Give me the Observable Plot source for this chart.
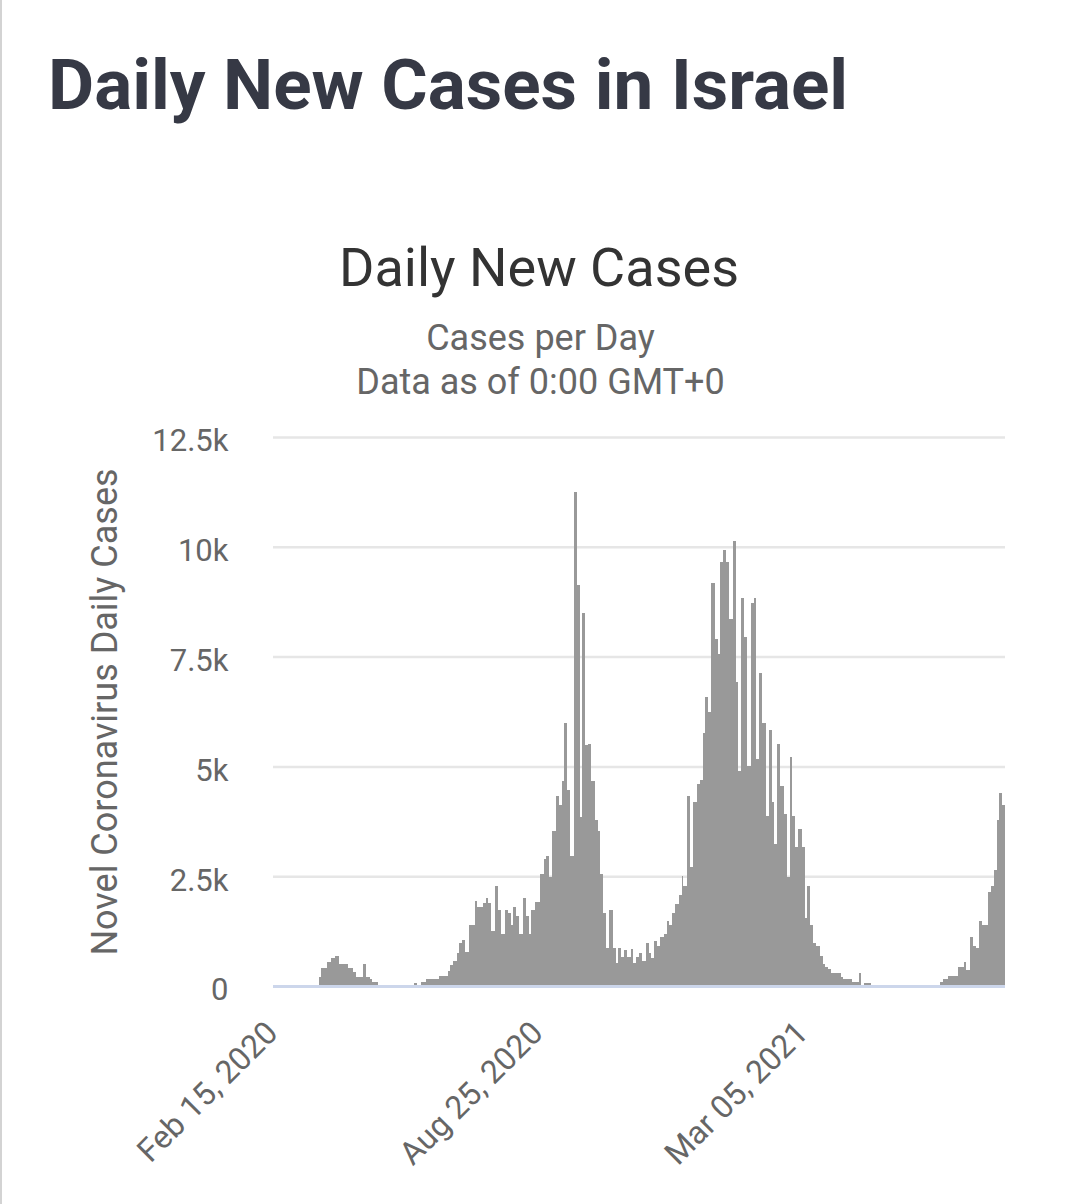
<!DOCTYPE html>
<html>
<head>
<meta charset="utf-8">
<script src="https://cdn.jsdelivr.net/npm/d3@7"></script>
<script src="https://cdn.jsdelivr.net/npm/@observablehq/plot@0.6"></script>
<style>
  html, body { margin: 0; padding: 0; background: #fff; }
  body { width: 1076px; height: 1204px; position: relative; overflow: hidden; font-family: Roboto, "Noto Sans", sans-serif; }
  #edge { position: absolute; left: 0; top: 0; width: 2px; height: 1204px; background: #d3d3d3; }
  .t { position: absolute; white-space: nowrap; line-height: 1; }
  #title { left: 48px; top: 49px; font-size: 71px; font-weight: 700; color: #363945; }
  #ctitle { left: 0; width: 1078px; text-align: center; top: 241px; font-size: 54px; color: #333; }
  #sub1 { left: 0; width: 1081px; text-align: center; top: 320px; font-size: 36px; color: #666; }
  #sub2 { left: 0; width: 1081px; text-align: center; top: 364px; font-size: 36px; color: #666; }
  #chart { position: absolute; left: 0; top: 420px; }
</style>
</head>
<body>
<div id="edge"></div>
<div class="t" id="title">Daily New Cases in Israel</div>
<div class="t" id="ctitle">Daily New Cases</div>
<div class="t" id="sub1">Cases per Day</div>
<div class="t" id="sub2">Data as of 0:00 GMT+0</div>
<div id="chart"></div>
<script>
// First day of the series (one value per day from here on)
const startDate = "2020-02-15";
const endDate = "2021-07-29"; // exclusive end of the axis

// Daily new cases in Israel (one value per day)
const dailyCases = [
  // Feb 15 – Mar 2, 2020
  0,0,0,0,0,0,0,0,0,0,0,0,0,0,0,0,
  1,0,1,2,3,3,5,6,8,10,12,15,18,20,22,25,28,
  // first wave
  200,200,400,410,420,410,550,550,550,640,640,640,690,690,690,
  500,500,500,500,500,500,400,400,400,400,330,330,200,200,200,200,200,500,500,200,200,200,150,150,80,80,80,80,
  30,25,20,20,15,15,10,10,10,8,8,5,5,5,5,10,10,8,8,10,15,15,20,20,25,30,
  // second wave
  70,70,20,25,30,80,80,80,80,
  150,150,150,150,150,150,150,150,150,230,230,230,230,230,230,230,
  350,480,480,580,580,580,760,760,970,970,1050,1050,770,770,770,
  1390,1390,1390,1390,1930,1930,1790,1790,1790,1790,1890,1890,2000,2000,1880,1880,1260,1260,1260,
  2280,2280,1720,1720,1190,1190,1190,1730,1730,1660,1660,1390,1390,1790,1790,1600,1600,1190,1190,1190,
  2000,2000,1600,1600,1190,1190,1730,1730,1730,1920,1920,1920,2550,2550,2550,2890,2890,2960,2960,2480,2480,3520,3520,3520,
  4330,4330,4130,4130,4660,4660,5980,5980,4470,4470,2960,2960,2960,11240,11240,9120,9120,3850,3850,8500,8500,5480,5480,5500,5500,4660,4660,4660,
  3790,3790,3520,3520,2550,2550,1670,1670,860,860,1730,1730,1730,860,860,520,520,860,860,650,650,830,830,650,650,650,840,840,
  // third wave
  520,520,670,670,750,750,580,580,580,970,970,740,740,630,630,1030,1030,910,910,1110,1110,1110,1190,1190,1470,1470,1390,1390,1670,1670,1870,1870,1870,2080,2080,2500,2280,2280,2280,
  4330,4330,2700,2700,4200,4200,4200,4610,4610,4680,4680,5760,5760,6580,6580,6230,6230,9180,9180,9180,7890,7890,7550,7550,9660,9660,9930,9930,9660,9660,8360,8360,8360,
  10130,10130,6920,6920,4890,4890,8840,8840,7950,7950,5020,5020,5020,8710,8710,8840,8840,5160,5160,7130,7130,5980,5980,5980,
  3880,3880,5840,5840,4200,4200,3240,3240,5500,5500,4550,4550,4550,3920,3920,2490,2490,5220,5220,3880,3880,3160,3160,3570,3570,3570,3160,3160,1540,1540,
  2280,2280,1390,1390,990,990,900,900,900,680,680,500,500,430,430,380,380,290,290,290,290,290,290,290,210,210,150,150,150,150,150,150,90,90,90,90,90,290,290,20,20,70,70,70,70,70,
  // low period
  30,28,25,25,22,20,20,18,15,15,
  12,12,10,10,10,8,8,8,6,6,
  5,5,5,4,4,4,5,5,6,6,
  5,5,4,4,5,6,8,10,12,15,
  18,20,22,25,25,28,28,30,30,30,
  // fourth wave
  80,80,150,150,150,150,230,230,230,230,230,230,230,430,430,430,430,550,550,360,360,360,
  1110,1110,920,920,860,860,1470,1470,1390,1390,1390,1390,1390,2150,2150,2280,2280,2630,2630,3770,3770,4390,4390,4130,4130
];

// Axis ticks
const yTicks = [0, 2500, 5000, 7500, 10000, 12500];
const yTickLabels = ["0", "2.5k", "5k", "7.5k", "10k", "12.5k"];
const xTickDates = ["2020-02-15", "2020-08-25", "2021-03-05"];
const xTickLabels = ["Feb 15, 2020", "Aug 25, 2020", "Mar 05, 2021"];
const yLabel = "Novel Coronavirus Daily Cases";

const start = d3.utcParse("%Y-%m-%d")(startDate);
const data = dailyCases.map((v, i) => ({date: d3.utcDay.offset(start, i), cases: v}));
// ticks at the middle of their day, as on a category axis
const xTicks = xTickDates.map(s => d3.utcHour.offset(d3.utcParse("%Y-%m-%d")(s), 12));

const chart = Plot.plot({
  width: 1076,
  height: 784,
  marginLeft: 273,
  marginRight: 71,
  marginTop: 17,
  marginBottom: 218,
  style: {fontFamily: "Roboto, 'Noto Sans', sans-serif", fontSize: "31px", color: "#666", background: "transparent", overflow: "visible"},
  x: {type: "utc", domain: [start, d3.utcParse("%Y-%m-%d")(endDate)]},
  y: {domain: [0, 12500]},
  marks: [
    Plot.gridY(yTicks, {stroke: "#e6e6e6", strokeOpacity: 1, strokeWidth: 2.5}),
    Plot.rectY(data, {x: "date", y: "cases", interval: "day", inset: 0, insetLeft: 0, insetRight: 0, fill: "#999999", shapeRendering: "crispEdges"}),
    Plot.ruleY([0], {stroke: "#ccd6eb", strokeWidth: 3}),
    Plot.axisY({ticks: yTicks, tickFormat: d => yTickLabels[yTicks.indexOf(d)], tickSize: 0, tickPadding: 45, dy: 4, label: null, fill: "#666"}),
    Plot.axisX({ticks: xTicks, tickFormat: d => xTickLabels[xTicks.findIndex(t => +t === +d)], tickSize: 0, tickPadding: 41, dx: -2, tickRotate: -45, fontSize: 32, label: null, fill: "#666"}),
    Plot.text([yLabel], {frameAnchor: "left", dx: -168, rotate: -90, textAnchor: "middle", fontSize: 36, fill: "#666"})
  ]
});
document.getElementById("chart").appendChild(chart);
</script>
</body>
</html>
